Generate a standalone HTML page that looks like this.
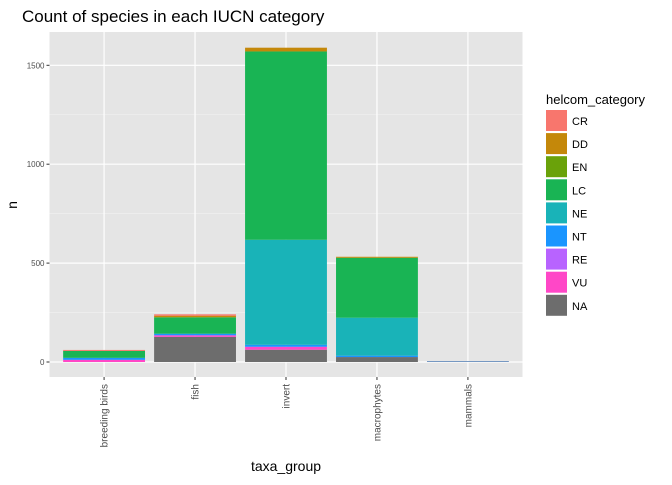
<!DOCTYPE html>
<html><head><meta charset="utf-8"><style>
body{margin:0;background:#fff;font-family:"Liberation Sans",sans-serif}
svg text{font-family:"Liberation Sans",sans-serif}
</style></head><body>
<svg width="672" height="480">
<text x="22" y="22" font-size="17" fill="#000">Count of species in each IUCN category</text>
<rect x="49.5" y="32" width="473" height="345" fill="#e5e5e5"/>
<g id="grid"></g><g id="bars"></g><g id="axes"></g><g id="legend"></g>
<text x="286" y="471" font-size="14" text-anchor="middle">taxa_group</text>
<text transform="translate(17,205) rotate(-90)" font-size="14" text-anchor="middle">n</text>
</svg>
<script>
const categories=["breeding birds","fish","invert","macrophytes","mammals"];
const levels=["CR","DD","EN","LC","NE","NT","RE","VU","NA"];
const fillColors=["#F8766D","#C4880A","#6AA20A","#19B454","#19B3B8","#1A95FF","#B863FF","#FF47C7","#6d6d6d"];
const valCR=[5,7,0,0,0];
const valDD=[0,8,19,5,0];
const valEN=[0,0,0,0,0];
const valLC=[35,83,952,303,0];
const valNE=[0,0,531,192,3];
const valNT=[10,8,10,7,0];
const valRE=[0,0,0,0,0];
const valVU=[11,8,15,0,2];
const valNA=[0,127,62,25,0];
const yTicks=[0,500,1000,1500];
const series=[valCR,valDD,valEN,valLC,valNE,valNT,valRE,valVU,valNA];
const NS="http://www.w3.org/2000/svg";
const x0=49.5,x1=522.5,step=(x1-x0)/(categories.length-1+1.2);
const xs=i=>x0+0.6*step+i*step;
const ys=v=>362-v*0.1978;
const bw=step*0.9;
function mk(t,a,p){const e=document.createElementNS(NS,t);for(const k in a)e.setAttribute(k,a[k]);p.appendChild(e);return e;}
const grid=document.getElementById('grid'),bars=document.getElementById('bars'),axes=document.getElementById('axes'),leg=document.getElementById('legend');
for(let i=0;i<yTicks.length-1;i++){const v=(yTicks[i]+yTicks[i+1])/2;const g=mk('line',{x1:x0,x2:x1,y1:ys(v),y2:ys(v),stroke:'#f2f2f2','stroke-width':0.6},grid);

}
yTicks.forEach(v=>{const l=mk('line',{x1:x0,x2:x1,y1:ys(v),y2:ys(v),stroke:'#fff','stroke-width':1.2},grid);


const t=mk('line',{x1:x0-3,x2:x0,y1:ys(v),y2:ys(v),stroke:'#333'},axes);


const tx=mk('text',{x:x0-5,y:ys(v)+3,'font-size':8,'text-anchor':'end',fill:'#4d4d4d'},axes);tx.textContent=v;

});
categories.forEach((c,i)=>{const x=xs(i);
const l=mk('line',{x1:x,x2:x,y1:32,y2:377,stroke:'#fff','stroke-width':1.2},grid);


const t=mk('line',{x1:x,x2:x,y1:377,y2:380,stroke:'#333'},axes);


const tx=mk('text',{transform:`translate(${x+3.5},384) rotate(-90)`,'font-size':10,'text-anchor':'end',fill:'#4d4d4d'},axes);tx.textContent=c;


let cum=0;
for(let s=series.length-1;s>=0;s--){const v=series[s][i];if(!v)continue;
const r=mk('rect',{x:x-bw/2,y:ys(cum+v),width:bw,height:ys(cum)-ys(cum+v),fill:fillColors[s]},bars);


cum+=v;}});
const tt=mk('text',{x:546,y:104,'font-size':13},leg);tt.textContent='helcom_category';


levels.forEach((lv,i)=>{const y=110+i*23.1;
const r=mk('rect',{x:546,y:y,width:21,height:21,fill:fillColors[i]},leg);


const t=mk('text',{x:572,y:y+15,'font-size':11},leg);t.textContent=lv;

});
</script>
</body></html>
